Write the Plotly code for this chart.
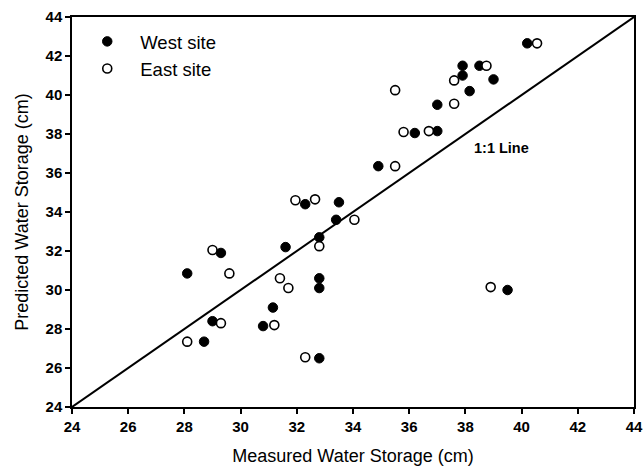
import plotly.graph_objects as go

west_measured = [28.1, 29.3, 29.0, 28.7, 30.8, 31.15, 31.6, 32.8, 32.8, 32.8, 32.8, 33.4, 33.5, 32.3,
                 39.5, 40.2, 37.9, 37.9, 38.5, 39.0, 38.15, 37.0, 36.2, 37.0, 34.9]
west_predicted = [30.85, 31.9, 28.4, 27.35, 28.15, 29.1, 32.2, 32.7, 30.6, 30.1, 26.5, 33.6, 34.5, 34.4,
                  30.0, 42.65, 41.5, 41.0, 41.5, 40.8, 40.2, 39.5, 38.05, 38.15, 36.35]

east_measured = [29.0, 29.6, 28.1, 29.3, 31.4, 31.7, 31.2, 32.3, 32.8, 34.05, 31.95, 32.65,
                 38.9, 40.55, 37.6, 38.75, 35.5, 37.6, 35.8, 36.7, 35.5]
east_predicted = [32.05, 30.85, 27.35, 28.3, 30.6, 30.1, 28.2, 26.55, 32.25, 33.6, 34.6, 34.65,
                  30.15, 42.65, 40.75, 41.5, 40.25, 39.55, 38.1, 38.15, 36.35]

line_x = [24, 44]
line_y = [24, 44]

tick_vals = [24, 26, 28, 30, 32, 34, 36, 38, 40, 42, 44]

FONT = "Liberation Sans, Arial, sans-serif"

fig = go.Figure()
fig.add_trace(go.Scatter(x=line_x, y=line_y, mode="lines",
                         line=dict(color="black", width=2), showlegend=False,
                         hoverinfo="skip"))
fig.add_trace(go.Scatter(x=west_measured, y=west_predicted, mode="markers", name="West site",
                         marker=dict(symbol="circle", size=9.5, color="black",
                                     line=dict(color="black", width=1))))
fig.add_trace(go.Scatter(x=east_measured, y=east_predicted, mode="markers", name="East site",
                         marker=dict(symbol="circle", size=9, color="white",
                                     line=dict(color="black", width=1.6))))

fig.add_annotation(x=39.27, y=37.27, text="1:1 Line", showarrow=False,
                   font=dict(family=FONT, size=14.5, color="black", weight="bold"))

axis_common = dict(
    tickmode="array", tickvals=tick_vals, ticktext=[str(v) for v in tick_vals],
    showgrid=False, zeroline=False, showline=True, linecolor="black", linewidth=1.5,
    mirror=True, ticks="outside", ticklen=5, tickwidth=1.5, tickcolor="black",
    tickfont=dict(family=FONT, size=15, color="black", weight="bold"),
    automargin=False,
)

fig.update_xaxes(range=[24, 44], title=dict(text="Measured Water Storage (cm)",
                 font=dict(family=FONT, size=18, color="black"), standoff=16), **axis_common)
fig.update_yaxes(range=[24, 44], title=dict(text="Predicted Water Storage (cm)",
                 font=dict(family=FONT, size=18, color="black"), standoff=12), **axis_common)

fig.update_layout(
    width=644, height=471,
    margin=dict(l=72, r=10, t=17, b=64),
    paper_bgcolor="white", plot_bgcolor="white",
    font=dict(family=FONT, color="black"),
    legend=dict(x=0.004, y=0.985, xanchor="left", yanchor="top",
                font=dict(family=FONT, size=18.5, color="black"),
                bgcolor="rgba(0,0,0,0)", itemwidth=56, tracegroupgap=0),
)

fig.write_html("out.html")
